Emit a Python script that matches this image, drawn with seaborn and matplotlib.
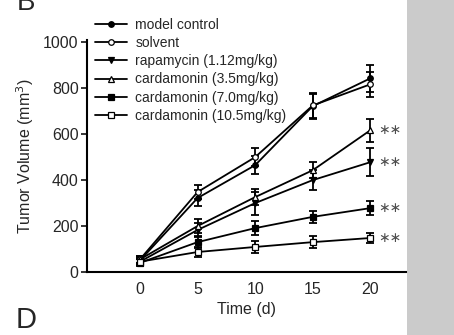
import numpy as np
import pandas as pd
import matplotlib
matplotlib.use("Agg")
import matplotlib.pyplot as plt
import seaborn as sns
from matplotlib.patches import Rectangle

days = [0, 5, 10, 15, 20]
series_names = ["model control", "solvent", "rapamycin (1.12mg/kg)",
                "cardamonin (3.5mg/kg)", "cardamonin (7.0mg/kg)", "cardamonin (10.5mg/kg)"]
model_control = [50, 322, 465, 722, 843]
solvent = [55, 348, 500, 725, 817]
rapamycin = [45, 183, 300, 400, 478]
card_35 = [55, 200, 326, 443, 617]
card_70 = [40, 130, 191, 240, 278]
card_105 = [45, 87, 109, 130, 148]
err_model = [15, 35, 40, 55, 60]
err_solvent = [15, 30, 40, 55, 55]
err_rapa = [15, 30, 50, 45, 60]
err_35 = [15, 30, 35, 35, 50]
err_70 = [15, 25, 30, 25, 30]
err_105 = [10, 20, 25, 25, 20]
sig_labels = ["", "", "\u2217\u2217", "\u2217\u2217", "\u2217\u2217", "\u2217\u2217"]

values = [model_control, solvent, rapamycin, card_35, card_70, card_105]
errors = [err_model, err_solvent, err_rapa, err_35, err_70, err_105]
markers = ["o", "o", "v", "^", "s", "s"]
faces = ["black", "white", "black", "white", "black", "white"]

rows = []
for name, v, e in zip(series_names, values, errors):
    for d, vv, ee in zip(days, v, e):
        rows.append({"day": d, "volume": vv, "err": ee, "group": name})
df = pd.DataFrame(rows)

sns.set_theme(style="white")
plt.rcParams["font.family"] = ["Liberation Sans", "DejaVu Sans"]

fig = plt.figure(figsize=(4.54, 3.35), dpi=100)
fig.patch.set_facecolor("white")
fig.add_artist(Rectangle((407/454, 0), 1 - 407/454, 1, transform=fig.transFigure,
                         facecolor="#cbcbcb", edgecolor="none", zorder=0))

ax = fig.add_axes([87/454, 1 - 272/335, (406 - 87)/454, (272 - 40)/335])
ax.set_facecolor("none")

for i, name in enumerate(series_names):
    sub = df[df["group"] == name]
    ax.errorbar(sub["day"], sub["volume"], yerr=sub["err"], fmt="none",
                ecolor="black", elinewidth=1.3, capsize=3, capthick=1.3, zorder=2)
    sns.lineplot(data=sub, x="day", y="volume", ax=ax, color="black", lw=1.3,
                 marker=markers[i], markersize=4, markerfacecolor=faces[i],
                 markeredgecolor="black", markeredgewidth=0.9, label=name, zorder=3)

for name, v, s in zip(series_names, values, sig_labels):
    if s:
        ax.text(20.65, v[-1], s, fontsize=10, color="#4d4d4d", va="center", ha="left",
                family="DejaVu Sans")

ax.set_xlim(-4.6, 23.1)
ax.set_ylim(0, 1010)
ax.set_xticks(days)
ax.set_yticks([0, 200, 400, 600, 800, 1000])
ax.tick_params(axis="y", direction="out", length=4, width=1.3, labelsize=11.5, pad=2, left=True)
ax.tick_params(axis="x", length=0, labelsize=11.5, pad=7)
for sp in ["top", "right"]:
    ax.spines[sp].set_visible(False)
for sp in ["left", "bottom"]:
    ax.spines[sp].set_color("black")
    ax.spines[sp].set_linewidth(1.5)
ax.set_xlabel("Time (d)", fontsize=11.5, labelpad=4)
ax.set_ylabel("Tumor Volume (mm$^3$)", fontsize=11.5, labelpad=5)

leg = ax.legend(loc="upper left", bbox_to_anchor=(95/454, 1 - 18/335),
                bbox_transform=fig.transFigure, frameon=False, fontsize=10,
                handlelength=2.3, handletextpad=0.6, labelspacing=0.3,
                borderaxespad=0, borderpad=0)

fig.text(17/454, 1 - 10/335, "B", fontsize=20, va="baseline", ha="left")
fig.text(16/454, 1 - 328/335, "D", fontsize=21, va="baseline", ha="left")

fig.savefig("out.png", dpi=100)
